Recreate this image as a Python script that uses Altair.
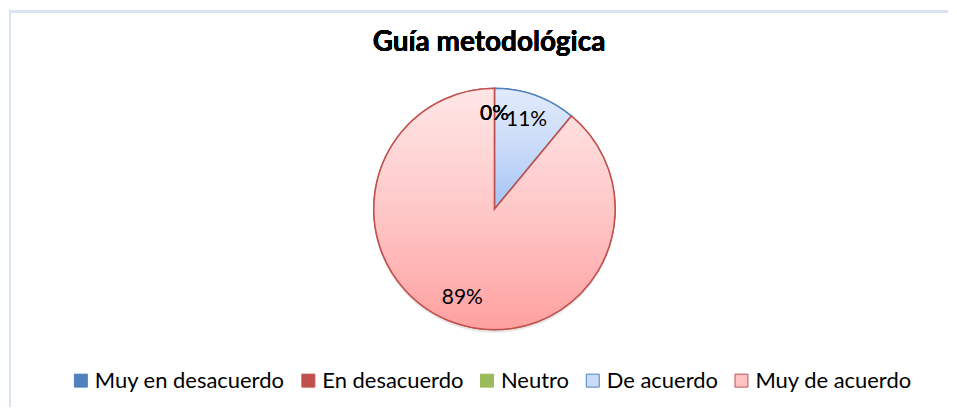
import altair as alt
import pandas as pd

# ---- data ----
categorias = ["Muy en desacuerdo", "En desacuerdo", "Neutro", "De acuerdo", "Muy de acuerdo"]
porcentajes = [0, 0, 0, 11, 89]
titulo = "Guía metodológica"

fill_colors = ["#4F81BD", "#C0504D", "#9BBB59", "#C9DBF7", "#FFC3C3"]
stroke_colors = ["#4F81BD", "#C0504D", "#9BBB59", "#4F81BD", "#C0504D"]

df = pd.DataFrame({
    "categoria": categorias,
    "valor": porcentajes,
    "orden": list(range(len(categorias))),
    "etiqueta": [f"{v}%" for v in porcentajes],
})

W, H = 941, 398
CX, CY, R = 486.5, 200, 121
FONT = "Lato"

grad_blue = {"gradient": "linear", "x1": 0, "y1": 0, "x2": 0, "y2": 1,
             "stops": [{"offset": 0, "color": "#E1EBFB"},
                       {"offset": 0.5, "color": "#C9DBF8"},
                       {"offset": 1, "color": "#A5C3F4"}]}
grad_pink = {"gradient": "linear", "x1": 0, "y1": 0, "x2": 0, "y2": 1,
             "stops": [{"offset": 0, "color": "#FFE6E6"},
                       {"offset": 0.5, "color": "#FFC8C8"},
                       {"offset": 1, "color": "#FFA0A0"}]}

base = alt.Chart(df)

frame_top = base.mark_rule(color="#D8E2F1", strokeWidth=2).encode(
    x=alt.value(0), x2=alt.value(W), y=alt.value(2))
frame_left = base.mark_rule(color="#D8E2F1", strokeWidth=2).encode(
    x=alt.value(1), y=alt.value(0), y2=alt.value(H))

theta = alt.Theta("valor:Q", stack=True)
order = alt.Order("orden:Q")

shadow = base.mark_arc(radius=R, color="#BBBBBB", opacity=0.35).encode(
    theta=theta, order=order, x=alt.value(CX), y=alt.value(CY + 3))

legend_pie = base.mark_arc(radius=R, strokeWidth=1).encode(
    theta=theta,
    order=order,
    x=alt.value(CX), y=alt.value(CY),
    fill=alt.Fill("categoria:N",
                  scale=alt.Scale(domain=categorias, range=fill_colors),
                  sort=categorias,
                  legend=alt.Legend(title=None, orient="none", legendX=61, legendY=361,
                                    direction="horizontal", symbolType="square",
                                    symbolSize=169, labelFont=FONT, labelFontSize=22,
                                    labelColor="#000000", columnPadding=12, labelOffset=3,
                                    labelLimit=0, symbolStrokeWidth=1)),
    stroke=alt.Stroke("categoria:N",
                      scale=alt.Scale(domain=categorias, range=stroke_colors),
                      sort=categorias, legend=None),
)

grad_pie = base.mark_arc(radius=R, strokeWidth=1.6).encode(
    theta=theta,
    order=order,
    x=alt.value(CX), y=alt.value(CY),
    fill=alt.when(alt.datum.categoria == "De acuerdo").then(alt.value(grad_blue)).otherwise(alt.value(grad_pink)),
    stroke=alt.when(alt.datum.categoria == "De acuerdo").then(alt.value("#4F81BD")).otherwise(alt.value("#C0504D")),
)

labels = base.mark_text(radius=95, font=FONT, fontSize=21, color="#000000",
                        align="center", baseline="middle").encode(
    theta=theta,
    order=order,
    x=alt.value(CX), y=alt.value(CY),
    text="etiqueta:N",
)

title_mark = base.mark_text(font=FONT, fontSize=28, fontWeight="bold", color="#000000",
                            align="center", baseline="alphabetic").encode(
    x=alt.value(481), y=alt.value(42), text=alt.value(titulo))

chart = alt.layer(frame_top, frame_left, shadow, legend_pie, grad_pie, labels, title_mark).properties(
    width=W, height=H, padding=0, background="white"
).configure_view(stroke=None)

chart.save("out.html", embed_options={"renderer": "svg", "actions": False})
